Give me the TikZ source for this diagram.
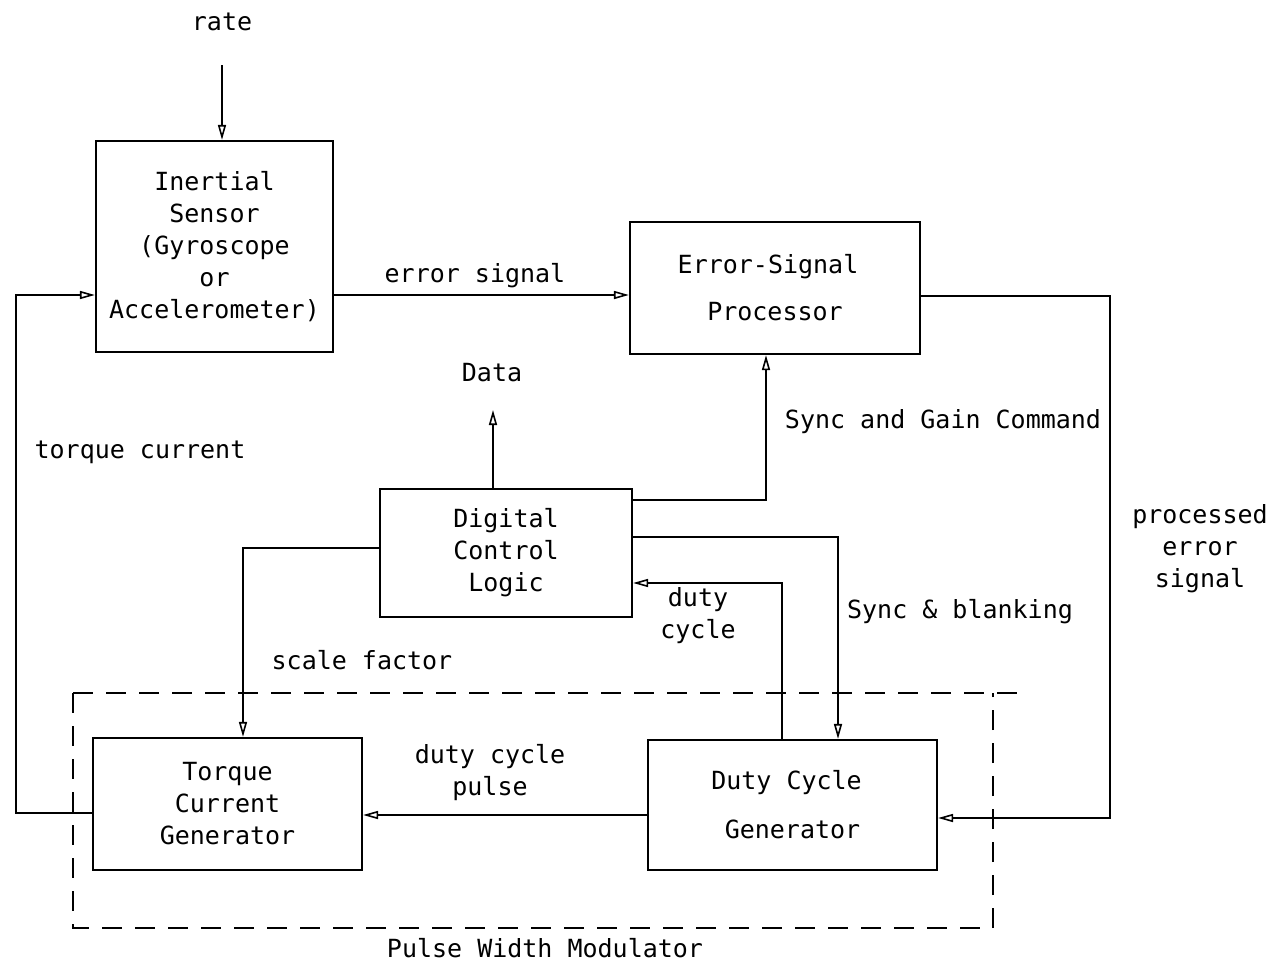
\documentclass[tikz,border=0pt]{standalone}
\usepackage{fontspec}
\newfontfamily\monof{DejaVu Sans Mono}
\usetikzlibrary{arrows.meta}
\begin{document}
\begin{tikzpicture}[x=1pt,y=-1pt,
  every node/.style={font=\monof\fontsize{25}{32}\selectfont, align=center, inner sep=0pt},
  blk/.style={draw, line width=2.2pt, rectangle},
  conn/.style={line width=2.2pt},
  arr/.style={conn, -{Triangle[open, length=15pt, width=8pt, line width=1.6pt]}},
  pwm/.style={line width=2.2pt, dash pattern=on 20pt off 13pt}
]
\useasboundingbox (0,0) rectangle (1281,964);

% blocks
\node[blk, minimum width=237pt, minimum height=211pt] (is) at (214.5,246.5) {Inertial\\Sensor\\(Gyroscope\\or\\Accelerometer)};
\node[blk, minimum width=290pt, minimum height=132pt] (esp) at (775,288) {\hspace*{-14pt}Error-Signal\\[15pt]Processor};
\node[blk, minimum width=252pt, minimum height=128pt] (dcl) at (506,553) {Digital\\Control\\Logic};
\node[blk, minimum width=269pt, minimum height=132pt] (tcg) at (227.5,804) {Torque\\Current\\Generator};
\node[blk, minimum width=289pt, minimum height=130pt] (dcg) at (792.5,805) {\hspace*{-12pt}Duty Cycle\\[17pt]Generator};

% labels
\node (rate) at (222,22) {rate};
\coordinate (ratestart) at (222,65);
\node (lerr) at (475,276) {error signal};
\node (ltc) at (140,452) {torque current};
\node (data) at (492,373) {Data};
\node (lsgc) at (943,422) {Sync and Gain Command};
\node (lpes) at (1200,549) {processed\\error\\signal};
\node (ldc) at (698,616) {duty\\cycle};
\node (lsb) at (960,612) {Sync \& blanking};
\node (lsf) at (362,660) {scale factor};
\node (ldcp) at (490,773) {duty cycle\\pulse};
\node (lpwm) at (545,948) {Pulse Width Modulator};

% PWM dashed box
\draw[pwm] (73,693) -- (1025,693);
\draw[pwm] (73,693) -- (73,928) -- (993,928) -- (993,693);

% connectors
\draw[arr] (ratestart) -- (is.north -| 222,0);
\draw[arr] (is.east |- 0,295) -- (esp.west |- 0,295);
\draw[arr] (tcg.west |- 0,813) -- (16,813) -- (16,295) -- (is.west |- 0,295);
\draw[arr] (esp.east |- 0,296) -- (1110,296) -- (1110,818) -- (dcg.east |- 0,818);
\draw[arr] (dcl.north -| 493,0) -- (493,410);
\draw[arr] (dcl.east |- 0,500) -- (766,500) -- (esp.south -| 766,0);
\draw[arr] (dcl.east |- 0,537) -- (838,537) -- (dcg.north -| 838,0);
\draw[arr] (dcg.north -| 782,0) -- (782,583) -- (dcl.east |- 0,583);
\draw[arr] (dcl.west |- 0,548) -- (243,548) -- (tcg.north -| 243,0);
\draw[arr] (dcg.west |- 0,815) -- (tcg.east |- 0,815);
\end{tikzpicture}
\end{document}
